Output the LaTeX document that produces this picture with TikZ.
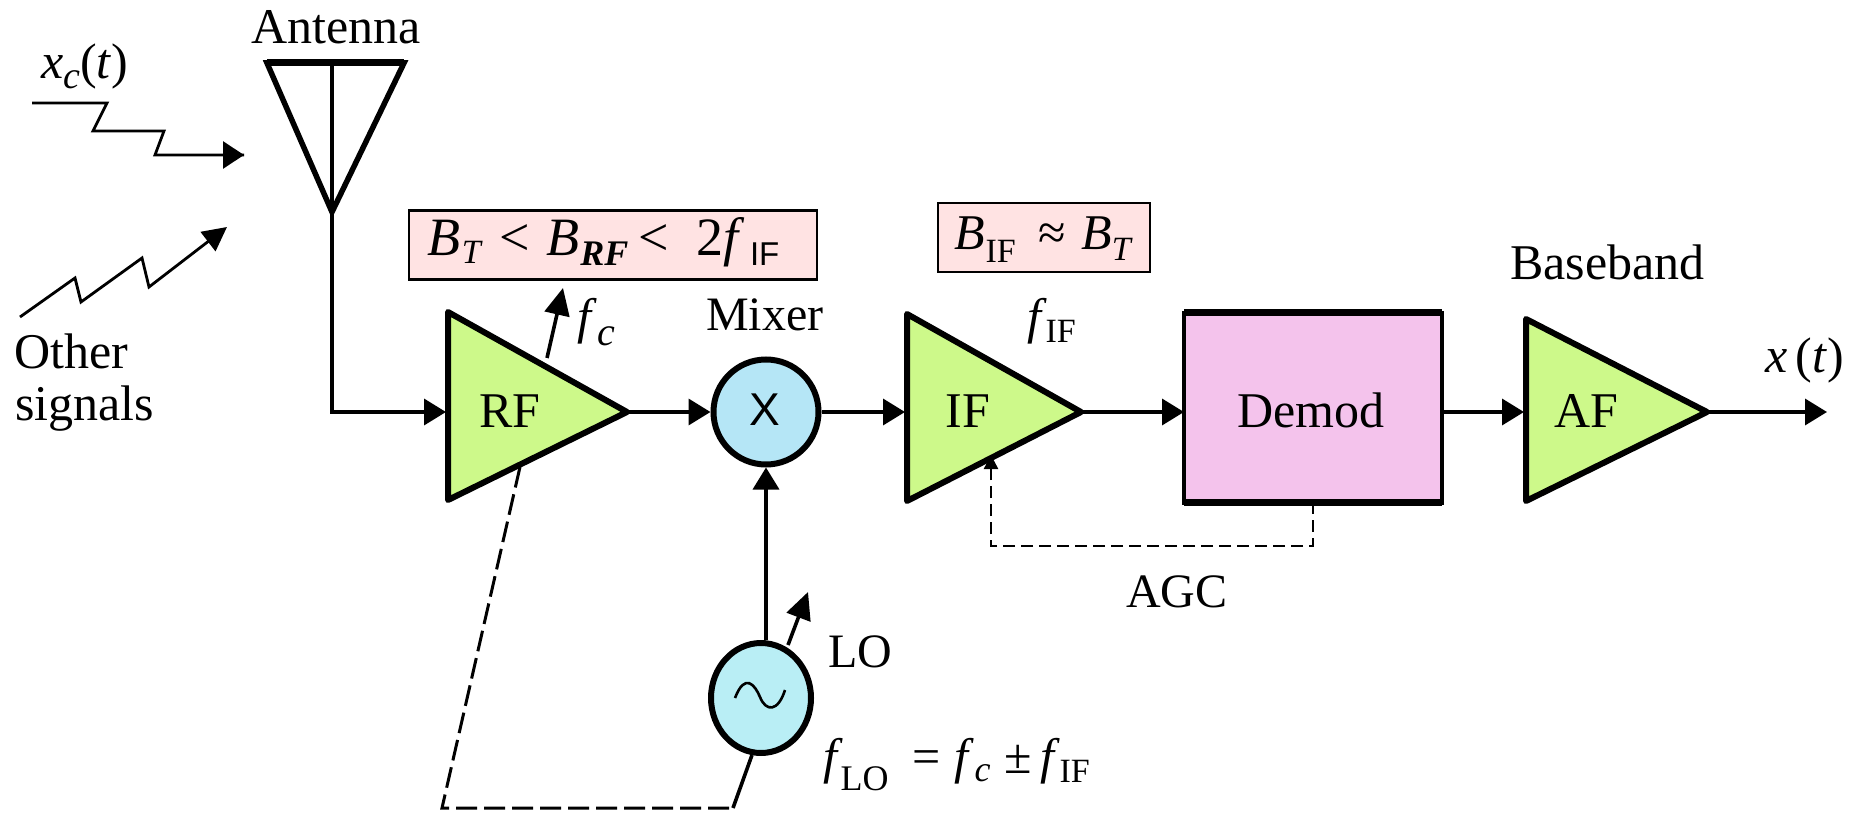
\documentclass[tikz,border=0pt]{standalone}
\usepackage{fontspec}
\setmainfont{Liberation Serif}
\newfontfamily\lsans{Liberation Sans}
\usetikzlibrary{arrows.meta,shapes.geometric}
\definecolor{ampgreen}{HTML}{CDF98A}
\definecolor{mixblue}{HTML}{B5E6F6}
\definecolor{loblue}{HTML}{B9EEF5}
\definecolor{dempink}{HTML}{F4C3EC}
\definecolor{noterose}{HTML}{FFE3E3}
\newcommand{\fsz}[1]{\fontsize{#1}{#1}\selectfont}
\newcommand{\lowered}[3]{\raisebox{-#1pt}{\fsz{#2}#3}}
\tikzset{
  amp/.style={draw=black,fill=ampgreen,line width=6pt,line join=round},
  sig/.style={draw=black,line width=3.6pt,line join=miter},
  flow/.style={sig,-{Triangle[length=22pt,width=26pt]}},
  tune/.style={sig,-{Triangle[length=27pt,width=25pt]}},
  rough/.style={draw=black,line width=2.8pt},
  label/.style={anchor=base west,inner sep=0pt,outer sep=0pt,font=\fsz{50}},
  inamp/.style={anchor=base,inner sep=0pt,outer sep=0pt,font=\fsz{50}},
  note/.style={draw=black,fill=noterose,line width=2.4pt,inner sep=0pt,outer sep=0pt},
  rounddev/.style={draw=black,line width=6pt,inner sep=0pt,outer sep=3pt,ellipse},
  longdash/.style={draw=black,line width=3pt,dash pattern=on 21pt off 7pt},
  shortdash/.style={draw=black,line width=2.4pt,dash pattern=on 12pt off 6pt}
}
\begin{document}
\begin{tikzpicture}[x=1pt,y=-1pt]
\useasboundingbox (0,0) rectangle (1850,813);
\fill[white] (0,0) rectangle (1850,813);
% anchors
\coordinate (rfa) at (448,312); \coordinate (rfb) at (627,412); \coordinate (rfc) at (448,500);
\coordinate (ifa) at (907,314); \coordinate (ifb) at (1081,412); \coordinate (ifc) at (907,501);
\coordinate (afa) at (1526,319); \coordinate (afb) at (1707,412); \coordinate (afc) at (1526,501);
\coordinate (rfin) at (446,412); \coordinate (ifin) at (905,412); \coordinate (afin) at (1524,412);
\coordinate (anta) at (267,63); \coordinate (antb) at (404,63); \coordinate (antc) at (332,212);
\coordinate (anttop) at (332,63); \coordinate (antfoot) at (332,412);
\coordinate (out) at (1827,412);
\coordinate (c1) at (32,103); \coordinate (c2) at (107,103); \coordinate (c3) at (93,131);
\coordinate (c4) at (164,131); \coordinate (c5) at (155,155); \coordinate (c6) at (244,155);
\coordinate (o1) at (20,317); \coordinate (o2) at (75,278); \coordinate (o3) at (81,302);
\coordinate (o4) at (142,258); \coordinate (o5) at (149,287); \coordinate (o6) at (227,227);
\coordinate (rfdial) at (547,358); \coordinate (rfdialtip) at (563,288);
\coordinate (rfgang) at (520,467); \coordinate (gang1) at (442,808); \coordinate (gang2) at (733,808);
\coordinate (logang) at (752,755);
\coordinate (lodial) at (788,645); \coordinate (lodialtip) at (808,592);
\coordinate (agcin) at (1313,502); \coordinate (agc1) at (1313,546); \coordinate (agc2) at (991,546); \coordinate (agcout) at (991,455);
% devices
\node[rounddev,fill=mixblue,minimum width=105pt,minimum height=105pt] (mix) at (766,412) {};
\node[rounddev,fill=loblue,minimum width=100pt,minimum height=110pt] (lo) at (761,698) {};
\node[draw=black,fill=dempink,line width=4pt,minimum width=258pt,minimum height=190pt,inner sep=0pt,outer sep=0pt] (dem) at (1313,407.5) {};
\draw[black,line width=7pt] (dem.north west) -- (dem.north east) (dem.south west) -- (dem.south east);
\draw[amp] (rfa) -- (rfb) -- (rfc) -- cycle;
\draw[amp] (ifa) -- (ifb) -- (ifc) -- cycle;
\draw[amp] (afa) -- (afb) -- (afc) -- cycle;
% antenna
\draw[draw=black,line width=5.5pt,line join=miter] (anta) -- (antb) -- (antc) -- cycle;
\draw[black,line width=7pt] (anta) -- (antb);
\draw[sig] (anttop) -- (antc);
% connectors
\draw[flow] (antc) -- (antfoot) -- (rfin);
\draw[flow] (rfb) -- (mix.west);
\draw[flow] (mix.east) -- (ifin);
\draw[flow] (ifb) -- (ifb -| dem.west);
\draw[flow] (afin -| dem.east) -- (afin);
\draw[flow] (afb) -- (out);
\draw[flow] (lo.north -| mix.south) -- (mix.south);
\draw[tune] (rfdial) -- (rfdialtip);
\draw[tune] (lodial) -- (lodialtip);
\draw[rough] (c1) -- (c2) -- (c3) -- (c4) -- (c5) -- (c6);
\draw[rough,-{Triangle[length=21pt,width=27pt]}] (c5) -- (c6);
\draw[rough,-{Triangle[length=24pt,width=24pt]}] (o1) -- (o2) -- (o3) -- (o4) -- (o5) -- (o6);
\draw[longdash] (rfgang) -- (gang1) -- (gang2);
\draw[sig] (gang2) -- (logang);
\draw[shortdash,-{Triangle[length=14pt,width=14pt]}] (agcin) -- (agc1) -- (agc2) -- (agcout);
% symbols inside devices
\draw[line width=2.6pt,black] (735,698) .. controls (745,672) and (755,685) .. (760,697) .. controls (766,712) and (778,712) .. (785,690);
% text
\node[inamp] (rflab) at (510,427) {RF};
\node[inamp] (iflab) at (968,427) {IF};
\node[inamp] (aflab) at (1586,427) {AF};
\node[inamp] (demlab) at (1311,427) {Demod};
\node[inamp,font=\fsz{46}\lsans] (mixsym) at (765,425) {X};
\node[label] (antlab) at (251,44) {Antenna};
\node[label] (xclab) at (41,79) {\textit{x}\lowered{10}{38}{\textit{c}}(\textit{t})};
\node[label] (oth1) at (14,368) {Other};
\node[label] (oth2) at (15,420) {signals};
\node[label,font=\fsz{48}] (mixlab) at (706,330) {Mixer};
\node[label] (bblab) at (1510,279) {Baseband};
\node[label] (xlab) at (1765,372) {\textit{x}\,(\textit{t})};
\node[label,font=\fsz{48}] (lolab) at (828,667) {LO};
\node[label,font=\fsz{48}] (agclab) at (1126,607) {AGC};
\node[label] (fclab) at (577,333) {\textit{f}\lowered{12}{40}{\kern1pt\textit{c}}};
\node[label] (iflab2) at (1027,333) {\textit{f}\lowered{9}{34}{\kern-1pt IF}};
\node[label] (flolab) at (823,773) {\textit{f}\lowered{17}{36}{\kern-2pt LO}\hspace{24pt}=\hspace{14pt}\textit{f}\lowered{8}{36}{\textit{c}}\hspace{14pt}±\hspace{9pt}\textit{f}\lowered{9}{34}{\kern-1pt IF}};
\node[note,minimum width=408pt,minimum height=69pt] (noterf) at (613,245) {};
\node[label,font=\fsz{54}] (noterft) at (427,255) {\textit{B}\lowered{8}{34}{\kern2pt\textit{T}}\hspace{17pt}<\hspace{16pt}\textit{B}\lowered{10}{36}{\kern1pt\textbf{\textit{RF}}}\hspace{10pt}<\hspace{28pt}2\textit{f}\lowered{10}{33}{\kern5pt\lsans IF}};
\node[note,minimum width=212pt,minimum height=69pt] (noteif) at (1044,237.5) {};
\node[label,font=\fsz{50}] (noteift) at (954,250) {\textit{B}\lowered{13}{34}{\kern1pt IF}\hspace{23pt}≈\hspace{15pt}\textit{B}\lowered{10}{34}{\textit{T}}};
\end{tikzpicture}
\end{document}
